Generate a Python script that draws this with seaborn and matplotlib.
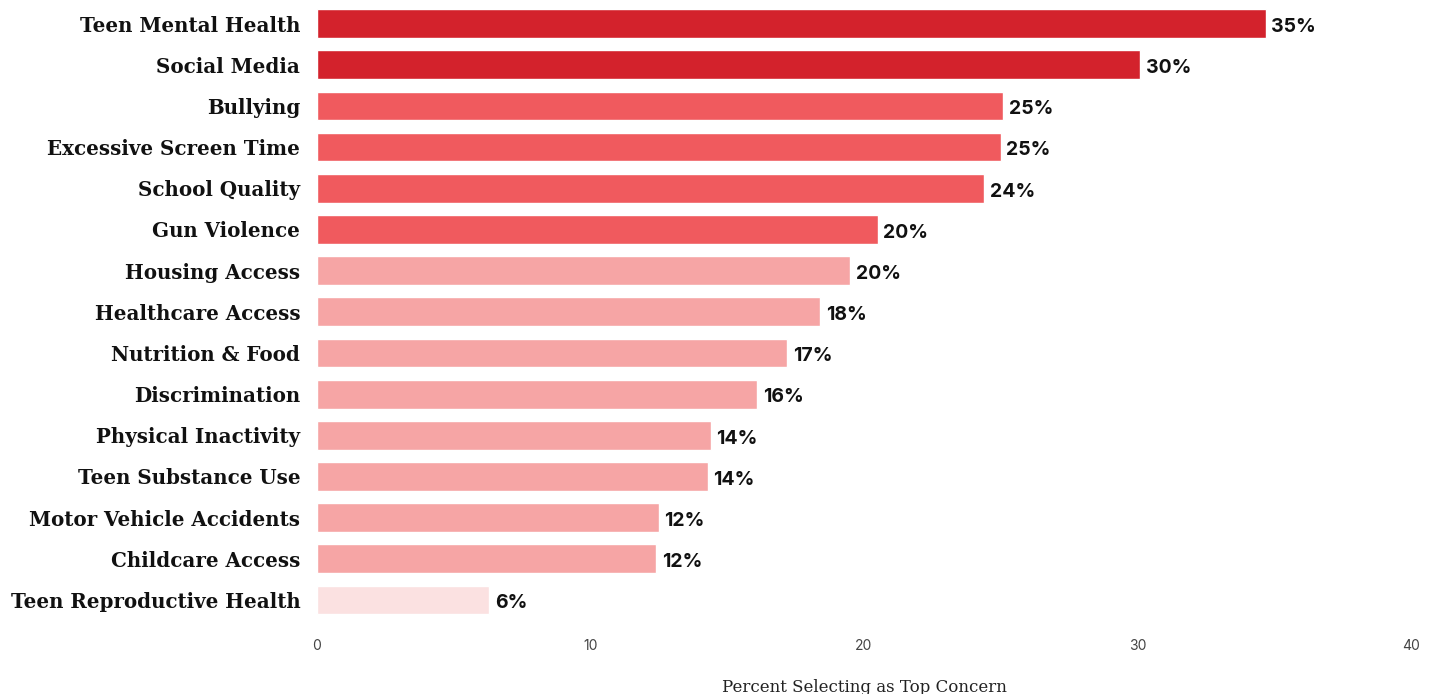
import matplotlib
matplotlib.use("Agg")
import matplotlib.pyplot as plt
import seaborn as sns
import pandas as pd

categories = ["Teen Mental Health", "Social Media", "Bullying", "Excessive Screen Time",
              "School Quality", "Gun Violence", "Housing Access", "Healthcare Access",
              "Nutrition & Food", "Discrimination", "Physical Inactivity", "Teen Substance Use",
              "Motor Vehicle Accidents", "Childcare Access", "Teen Reproductive Health"]
values = [34.7, 30.1, 25.1, 25.0, 24.4, 20.5, 19.5, 18.4, 17.2, 16.1, 14.4, 14.3, 12.5, 12.4, 6.3]
value_labels = ["35%", "30%", "25%", "25%", "24%", "20%", "20%", "18%", "17%", "16%",
                "14%", "14%", "12%", "12%", "6%"]
tiers = [1, 1, 2, 2, 2, 2, 3, 3, 3, 3, 3, 3, 3, 3, 4]
tier_colors = {1: "#d3222c", 2: "#f05a5e", 3: "#f6a5a5", 4: "#fbe1e1"}

df = pd.DataFrame({"category": categories, "value": values})
palette = [tier_colors[t] for t in tiers]

sns.set_style("white")
fig = plt.figure(figsize=(14.33, 6.94), dpi=100)
ax = fig.add_axes([0.2212, 0.1058, 0.7634, 0.8899])

sns.barplot(data=df, x="value", y="category", hue="category", palette=palette,
            saturation=1, legend=False, width=0.7, edgecolor="white", linewidth=1, ax=ax)

# percent labels just past the bar ends
for i, (v, lab) in enumerate(zip(values, value_labels)):
    ax.text(v + 0.2, i + 0.08, lab, va="center", ha="left", fontsize=14,
            fontweight="bold", family="Inter", color="#111111")

ax.set_xlim(0, 40)
ax.set_xticks([0, 10, 20, 30, 40])
ax.tick_params(axis="x", length=0, pad=13, labelsize=10, labelcolor="#444444")
for t in ax.get_xticklabels():
    t.set_family("Inter")
ax.tick_params(axis="y", length=0, pad=12)
for t in ax.get_yticklabels():
    t.set_family("DejaVu Serif")
    t.set_fontweight("bold")
    t.set_fontsize(14.3)
    t.set_color("#111111")
ax.set_ylabel("")
ax.set_xlabel("Percent Selecting as Top Concern", family="DejaVu Serif", fontsize=12,
              color="#222222", labelpad=19)
sns.despine(left=True, bottom=True)

fig.savefig("out.png", dpi=100)
